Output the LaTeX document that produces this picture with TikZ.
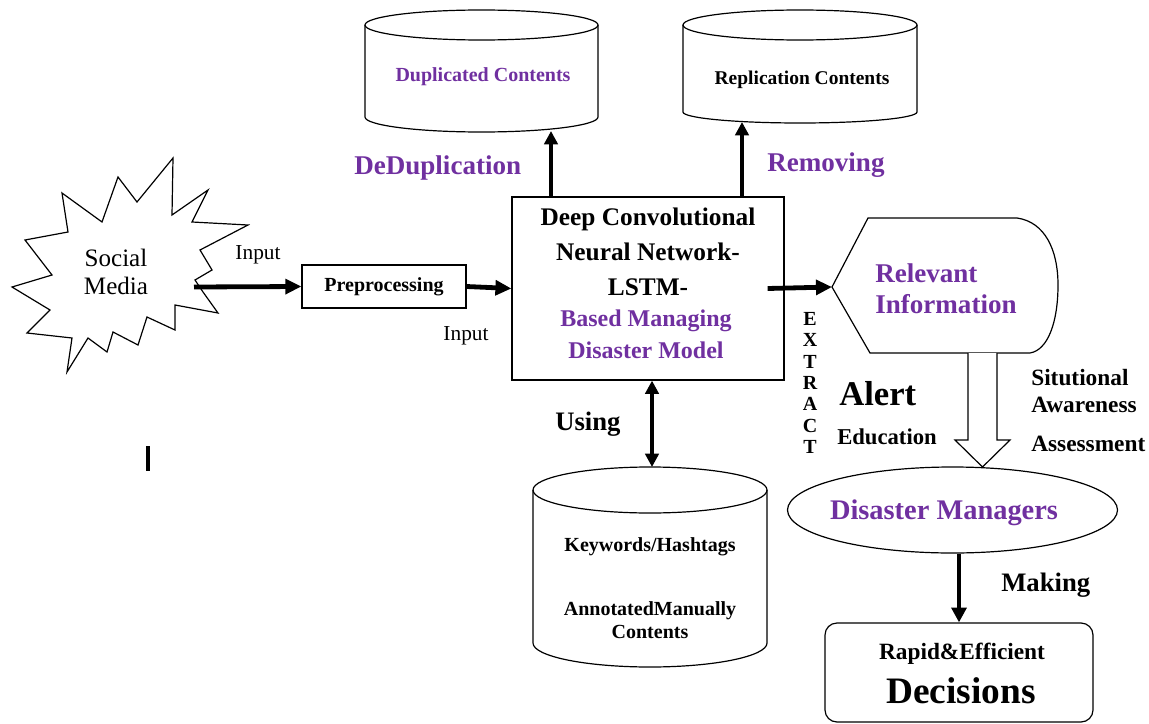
\documentclass[tikz,border=0pt]{standalone}
\usepackage{fontspec}
\setmainfont{Liberation Serif}
\usetikzlibrary{arrows.meta,shapes.geometric}
\definecolor{pur}{RGB}{112,48,160}
\newcommand\fz[1]{\fontsize{#1pt}{1.15\dimexpr #1pt\relax}\selectfont}
\begin{document}
\begin{tikzpicture}[x=0.75pt,y=-0.75pt,
  ln/.style={line width=0.9pt},
  arr/.style={line width=3.6pt,-{Triangle[length=12pt,width=11pt]}},
  arrup/.style={line width=3.4pt,-{Triangle[length=10pt,width=10pt]}},
  dbl/.style={line width=3pt,{Triangle[length=10pt,width=10pt]}-{Triangle[length=10pt,width=10pt]}},
  txt/.style={inner sep=0pt,font=\bfseries},
  box/.style={draw,ln,inner sep=0pt}]
\useasboundingbox (0,0) rectangle (1149,724);

% Social media starburst
\draw[ln,line join=miter,miter limit=20] (173,158) -- (172,215) -- (208,190) -- (192,222) -- (248,225) -- (200,250)
  -- (212,270) -- (195,280) -- (203,292) -- (218,313) -- (175,305) -- (175,330) -- (147,317)
  -- (138,345) -- (113,332) -- (107,352) -- (88,338) -- (67,372) -- (72,338) -- (27,333)
  -- (50,310) -- (12,287) -- (52,275) -- (25,240) -- (68,232) -- (62,193) -- (102,222)
  -- (118,177) -- (137,202) -- cycle;
\node[inner sep=0pt,align=center,font=\fz{18.8}] (sm) at (116,272) {Social\\Media};
\coordinate (smout) at (194,287);

% preprocessing
\node[box,minimum width=123pt,minimum height=32.25pt,txt,font=\bfseries\fz{15}] (pre) at (384,286.5) {Preprocessing};
\node[inner sep=0pt,font=\fz{16}] (in1) at (258,255) {Input};
\node[inner sep=0pt,font=\fz{16}] (in2) at (466,336) {Input};

% main box
\node[box,minimum width=204pt,minimum height=137.25pt] (main) at (648,288.5) {};
\node[txt,font=\bfseries\fz{19}] (m1) at (648,219) {Deep Convolutional};
\node[txt,font=\bfseries\fz{19}] (m2) at (648,252) {Neural Network-};
\node[txt,font=\bfseries\fz{19}] (m3) at (648,287) {LSTM-};
\node[txt,font=\bfseries\fz{18},text=pur] (m4) at (646,321) {Based Managing};
\node[txt,font=\bfseries\fz{18},text=pur] (m5) at (646,350) {Disaster Model};

\draw[arr] (smout) -- (pre.west);
\draw[arr] (pre.east) -- (main.west);

% top cylinders
\draw[ln] (365,25) -- (365,117) arc[start angle=180,end angle=0,x radius=116.5,y radius=15] -- (598,25);
\draw[ln] (481.5,25) ellipse[x radius=116.5,y radius=15];
\node[txt,font=\bfseries\fz{15},text=pur] (dup) at (483,77) {Duplicated Contents};
\coordinate (dupbot) at (551,131);

\draw[ln] (683,25) -- (683,112) arc[start angle=180,end angle=0,x radius=117,y radius=11] -- (917,25);
\draw[ln] (800,25) ellipse[x radius=117,y radius=15];
\node[txt,font=\bfseries\fz{14.6}] (rep) at (802,80) {Replication Contents};
\coordinate (repbot) at (742,122);

\draw[arrup] (main.north -| dupbot) -- (dupbot);
\draw[arrup] (main.north -| repbot) -- (repbot);
\node[txt,font=\bfseries\fz{20.3},text=pur,anchor=west] (dedup) at (354,168) {DeDuplication};
\node[txt,font=\bfseries\fz{20.3},text=pur,anchor=west] (remv) at (767,165) {Removing};

% bottom cylinder
\draw[ln] (533,490) -- (533,643) arc[start angle=180,end angle=0,x radius=117,y radius=24] -- (767,490);
\draw[ln] (650,490) ellipse[x radius=117,y radius=23];
\coordinate (kwtop) at (652,467);
\node[txt,font=\bfseries\fz{15}] (kw) at (650,547) {Keywords/Hashtags};
\node[txt,font=\bfseries\fz{15},align=center] (ann) at (650,620) {AnnotatedManually\\Contents};
\draw[dbl] (main.south -| kwtop) -- (kwtop);
\node[txt,font=\bfseries\fz{20},anchor=west] (using) at (555,424) {Using};

% relevant information
\coordinate (relL) at (832,287);
\draw[ln] (relL) -- (868,218) -- (1017,218) .. controls (1045,222) and (1058,250) .. (1058,285)
  .. controls (1058,322) and (1048,350) .. (1030,353) -- (870,353) -- cycle;
\node[txt,font=\bfseries\fz{20.3},text=pur,align=left,anchor=west] (rel) at (875,289) {Relevant\\Information};
\draw[arr] ([xshift=-12.75pt]main.east) -- (relL);

% extract
\node[txt,font=\bfseries\fz{15},align=center] (ext) at (810,383) {E\\[-1.2pt]X\\[-1.2pt]T\\[-1.2pt]R\\[-1.2pt]A\\[-1.2pt]C\\[-1.2pt]T};
\node[txt,font=\bfseries\fz{26},anchor=west] (alert) at (839,394) {Alert};
\node[txt,font=\bfseries\fz{17},anchor=west] (edu) at (837,437) {Education};
\node[txt,font=\bfseries\fz{17.5},anchor=west,align=left] (sa) at (1031,391) {Situtional\\Awareness};
\node[txt,font=\bfseries\fz{17.5},anchor=west] (ass) at (1031,444) {Assessment};

% hollow arrow
\draw[ln,fill=white,line join=miter] (968,353) -- (968,440) -- (955,440) -- (982.5,467) -- (1010,440) -- (997,440) -- (997,353);

% disaster managers
\node[draw,ln,ellipse,minimum width=247.5pt,minimum height=64.5pt,inner sep=0pt] (dm) at (952.5,510) {};
\node[txt,font=\bfseries\fz{21.3},text=pur] (dmt) at (944,513) {Disaster Managers};

% decisions
\node[draw,ln,rounded corners=9pt,minimum width=201pt,minimum height=74.25pt,inner sep=0pt] (dec) at (959,672.5) {};
\node[txt,font=\bfseries\fz{17.5}] (rap) at (962,654) {Rapid\&Efficient};
\node[txt,font=\bfseries\fz{28}] (decs) at (961,691) {Decisions};
\draw[line width=3pt,-{Triangle[length=11pt,width=11pt]}] (dec.north |- dm.south) -- (dec.north);
\node[txt,font=\bfseries\fz{20},anchor=west] (mak) at (1001,585) {Making};

% stray mark
\draw[line width=2.4pt] (148,446) -- (148,471);
\end{tikzpicture}
\end{document}
